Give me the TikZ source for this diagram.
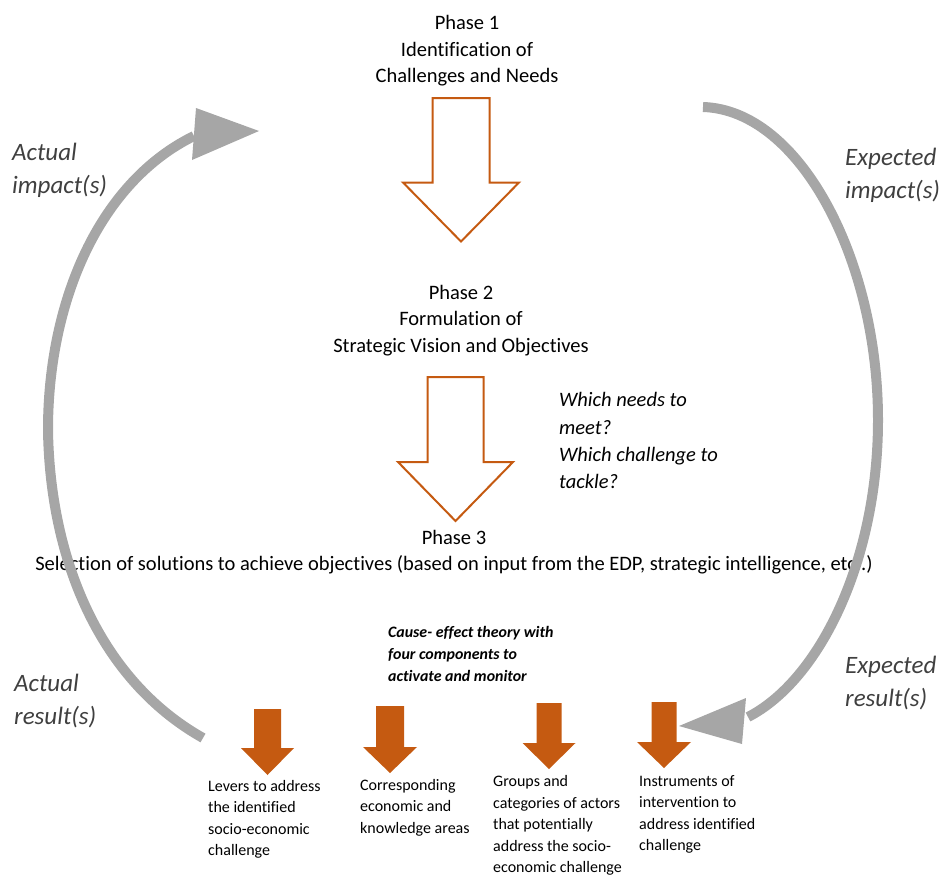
\documentclass[tikz,border=0pt]{standalone}
\usepackage{fontspec}
\setmainfont{Carlito}[Ligatures=NoCommon]
\definecolor{rust}{RGB}{197,90,17}
\definecolor{loopgray}{RGB}{166,166,166}
\definecolor{labelgray}{RGB}{64,64,64}
% block arrow pointing down: style, centre x, top y, shaft half width, head y, head half width, tip y
\newcommand{\downarrowshape}[7]{%
  \draw[#1] ({#2-#4},#3) -- ({#2+#4},#3) -- ({#2+#4},#5) -- ({#2+#6},#5)
    -- (#2,#7) -- ({#2-#6},#5) -- ({#2-#4},#5) -- cycle;}
\begin{document}
\begin{tikzpicture}[x=1pt,y=-1pt,
  phasetext/.style={font=\fontsize{20.5}{26.5}\selectfont, align=center, anchor=north, inner sep=0pt},
  question/.style={font=\itshape\fontsize{20.5}{27.3}\selectfont, align=left, anchor=north west, inner sep=0pt},
  sidelabel/.style={font=\itshape\fontsize{25}{33}\selectfont, text=labelgray, align=left, anchor=north west, inner sep=0pt},
  theory/.style={font=\bfseries\itshape\fontsize{15.9}{22}\selectfont, align=left, anchor=north west, inner sep=0pt},
  component/.style={font=\fontsize{16}{21.5}\selectfont, align=left, anchor=north west, inner sep=0pt},
  hollowarrow/.style={draw=rust, line width=2pt, fill=white, line join=miter},
  solidarrow/.style={fill=rust, draw=none},
  loopline/.style={draw=loopgray, line width=10pt, line cap=butt},
  loophead/.style={fill=loopgray, draw=none}]
\useasboundingbox (0,0) rectangle (940,875);

% phases
\node[phasetext] (phase1) at (467,15.5) {Phase 1\\Identification of\\Challenges and Needs};
\node[phasetext] (phase2) at (461,285) {Phase 2\\Formulation of\\Strategic Vision and Objectives};
\node[phasetext] (phase3) at (454,530) {Phase 3\\Selection of solutions to achieve objectives (based on input from the EDP, strategic intelligence, etc..)};

% hollow arrows between phases
\downarrowshape{hollowarrow}{461}{98}{28.5}{182.5}{58}{241.5}
\downarrowshape{hollowarrow}{455.5}{377}{28}{462}{57.5}{521}

\node[question] (questions) at (559,392.5) {Which needs to\\meet?\\Which challenge to\\tackle?};

% cause-effect theory and its four components
\node[theory] (theory) at (388,626) {Cause- effect theory with\\four components to\\activate and monitor};

\downarrowshape{solidarrow}{267.5}{709}{13.5}{748}{26.5}{775}
\downarrowshape{solidarrow}{390}{706}{14}{747}{27}{773}
\downarrowshape{solidarrow}{549}{703}{12.5}{743}{26.5}{769}
\downarrowshape{solidarrow}{664}{702}{12.5}{742}{27}{768}

\node[component] (levers) at (208,780) {Levers to address\\the identified\\socio-economic\\challenge};
\node[component] (areas) at (360,779) {Corresponding\\economic and\\knowledge areas};
\node[component] (actors) at (493,775.5) {Groups and\\categories of actors\\that potentially\\address the socio-\\economic challenge};
\node[component] (instruments) at (639,775) {Instruments of\\intervention to\\address identified\\challenge};

% side labels
\node[sidelabel] (actimpact) at (12,143) {Actual\\impact(s)};
\node[sidelabel] (expimpact) at (845,148) {Expected\\impact(s)};
\node[sidelabel] (actresult) at (14,673.5) {Actual\\result(s)};
\node[sidelabel] (expresult) at (845,656) {Expected\\result(s)};

% feedback loops
\coordinate (leftstart) at (203,738);
\coordinate (leftmid) at (48,430);
\coordinate (leftend) at (194,136);
\draw[loopline] (leftstart) .. controls (100,680) and (50,560) .. (leftmid)
  .. controls (48,300) and (100,182) .. (leftend);
\fill[loophead] (196,108) -- (259,131) -- (192,160) -- cycle;

\coordinate (rightstart) at (703,107);
\coordinate (rightmid) at (878,420);
\coordinate (rightend) at (748,717);
\draw[loopline] (rightstart) .. controls (800,110) and (878,260) .. (rightmid)
  .. controls (878,560) and (820,680) .. (rightend);
\fill[loophead] (746,698) -- (679,726) -- (742,744) -- cycle;
\end{tikzpicture}
\end{document}
